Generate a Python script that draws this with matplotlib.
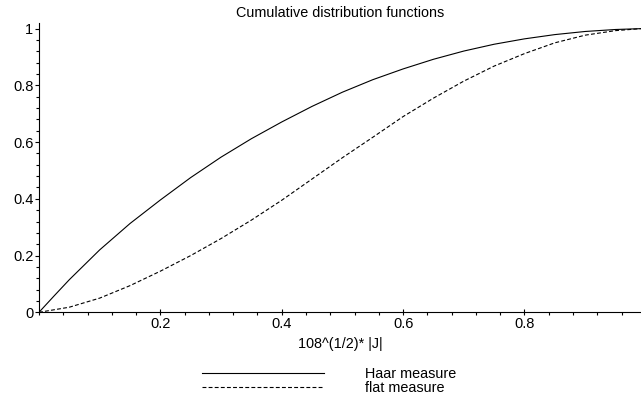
import matplotlib
matplotlib.use("Agg")
import matplotlib.pyplot as plt
from matplotlib.ticker import MultipleLocator, FixedLocator

plt.rcParams['font.family'] = ['Liberation Sans', 'DejaVu Sans']

# values
x_haar = [0.0, 0.025, 0.05, 0.1, 0.15, 0.2, 0.25, 0.3, 0.35, 0.4, 0.45,
          0.5, 0.55, 0.6, 0.65, 0.7, 0.75, 0.8, 0.85, 0.9, 0.95, 0.992]
y_haar = [0.0, 0.058, 0.115, 0.22, 0.313, 0.396, 0.475, 0.547, 0.612,
          0.671, 0.726, 0.776, 0.82, 0.858, 0.892, 0.921, 0.945, 0.964,
          0.979, 0.99, 0.997, 1.0]

x_flat = [0.0, 0.05, 0.1, 0.15, 0.2, 0.25, 0.3, 0.35, 0.4, 0.45, 0.5,
          0.55, 0.6, 0.65, 0.7, 0.75, 0.8, 0.85, 0.9, 0.95, 0.992]
y_flat = [0.0, 0.018, 0.05, 0.094, 0.145, 0.2, 0.26, 0.325, 0.395, 0.47,
          0.545, 0.617, 0.69, 0.755, 0.815, 0.868, 0.912, 0.95, 0.977,
          0.993, 1.0]

x_ticks = [0.2, 0.4, 0.6, 0.8]
y_ticks = [0, 0.2, 0.4, 0.6, 0.8, 1]
y_ticklabels = ["0", "0.2", "0.4", "0.6", "0.8", "1"]

fig = plt.figure(figsize=(6.41, 3.98), dpi=100)
ax = fig.add_axes([0.0608, 0.2153, 0.9392, 0.7277])

ax.plot(x_haar, y_haar, color="black", lw=0.8, label="Haar measure")
ax.plot(x_flat, y_flat, color="black", lw=0.8, ls=(0, (3.5, 2)),
        label="flat measure")

ax.set_xlim(0, 0.992)
ax.set_ylim(0, 1.021)

for s in ["top", "right"]:
    ax.spines[s].set_visible(False)
ax.spines["left"].set_linewidth(0.8)
ax.spines["bottom"].set_linewidth(0.8)

ax.xaxis.set_major_locator(FixedLocator(x_ticks))
ax.xaxis.set_minor_locator(MultipleLocator(0.04))
ax.set_yticks(y_ticks)
ax.set_yticklabels(y_ticklabels)
ax.yaxis.set_minor_locator(MultipleLocator(0.04))

ax.tick_params(axis="x", which="major", direction="inout", length=5,
               width=0.8, labelsize=10.5, pad=1)
ax.tick_params(axis="x", which="minor", direction="out", length=2.5,
               width=0.8)
ax.tick_params(axis="y", which="major", direction="out", length=3,
               width=0.8, labelsize=10.5, pad=1)
ax.tick_params(axis="y", which="minor", direction="out", length=2,
               width=0.8)

ax.set_title("Cumulative distribution functions", fontsize=10.4, pad=4)
ax.set_xlabel("108^(1/2)* |J|", fontsize=10.4, labelpad=4)

fig.legend(loc="upper left", bbox_to_anchor=(0.3144, 0.077),
           frameon=False, fontsize=10.4, handlelength=8.5,
           handletextpad=2.8, labelspacing=0.0, borderpad=0,
           borderaxespad=0)

fig.savefig("out.png", dpi=100)
